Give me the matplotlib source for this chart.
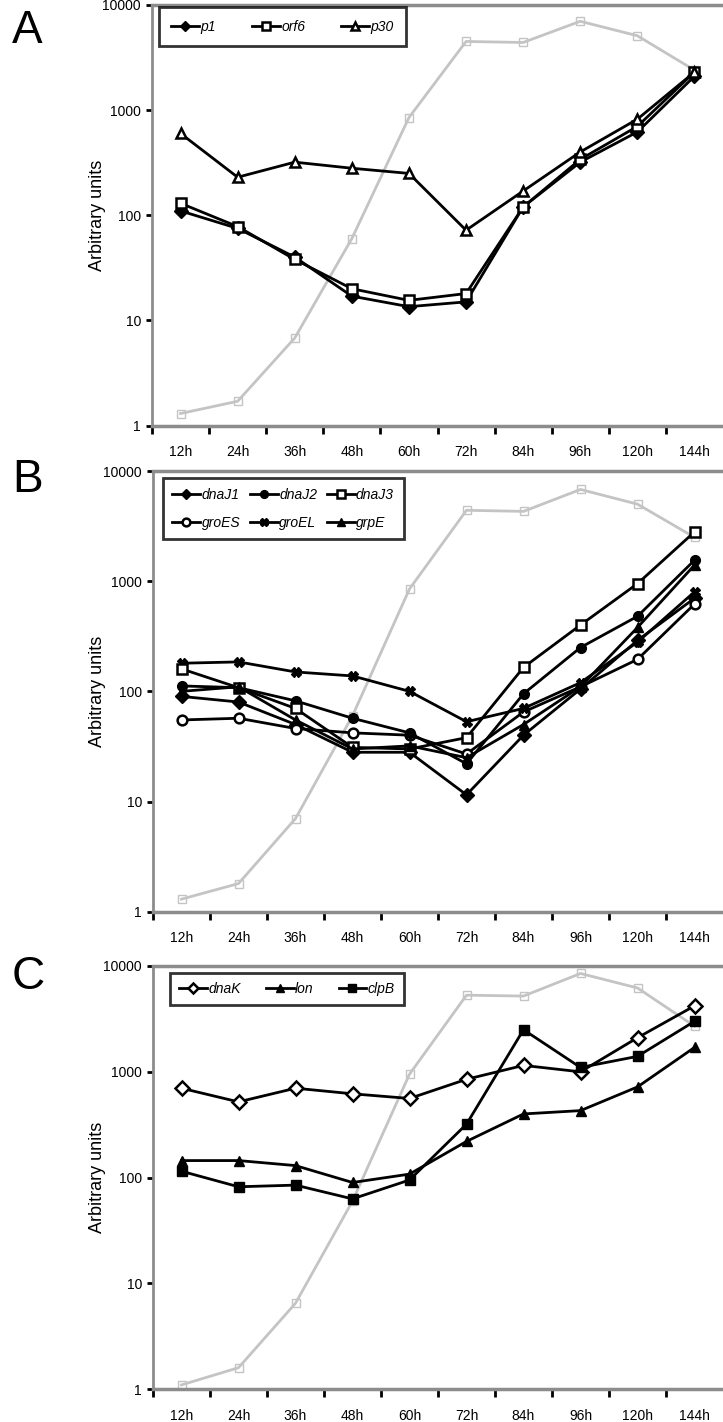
import numpy as np
import matplotlib
matplotlib.use('Agg')
import matplotlib.pyplot as plt
from matplotlib.ticker import FixedLocator, NullFormatter, FixedFormatter

plt.rcParams['font.family'] = ['Liberation Sans', 'DejaVu Sans']

# categorias (tiempo)
hours = ['12h', '24h', '36h', '48h', '60h', '72h', '84h', '96h', '120h', '144h']

# curva gris de referencia en cada panel
ref_a = [1.3, 1.7, 6.8, 60, 850, 4500, 4400, 7000, 5100, 2400]
ref_b = [1.3, 1.8, 7.0, 60, 850, 4400, 4300, 6800, 5000, 2500]
ref_c = [1.1, 1.6, 6.5, 60, 950, 5300, 5200, 8500, 6200, 2700]

# panel A
p1 = [110, 75, 40, 17, 13.5, 15, 120, 320, 620, 2100]
orf6 = [130, 78, 38, 20, 15.5, 18, 120, 340, 700, 2300]
p30 = [600, 230, 320, 280, 250, 72, 170, 400, 820, 2300]

# panel B
dnaJ1 = [90, 80, 50, 28, 28, 11.5, 40, 105, 290, 700]
dnaJ2 = [112, 108, 82, 57, 42, 22, 95, 250, 480, 1550]
dnaJ3 = [160, 108, 70, 31, 30, 38, 165, 400, 950, 2800]
groES = [55, 57, 46, 42, 40, 27, 65, 110, 195, 620]
groEL = [180, 185, 150, 138, 100, 53, 70, 120, 280, 800]
grpE = [100, 110, 55, 30, 32, 25, 50, 110, 380, 1400]

# panel C
dnaK = [700, 520, 700, 620, 560, 850, 1150, 1000, 2100, 4200]
lon = [145, 145, 130, 90, 108, 220, 400, 430, 720, 1700]
clpB = [115, 82, 85, 63, 95, 320, 2500, 1100, 1400, 3000]

W, H = 723, 1422
fig = plt.figure(figsize=(W / 100, H / 100), dpi=100)

def axes_px(left, top, bottom, right=723):
    return fig.add_axes([left / W, 1 - bottom / H, (right - left) / W, (bottom - top) / H])

ax_a = axes_px(152, 5, 425.5)
ax_b = axes_px(153, 471, 911.7)
ax_c = axes_px(153, 966, 1389.3)

x = np.arange(len(hours))
gray = '#c4c4c4'
spine_gray = '#8c8c8c'

def style(ax, ref):
    ax.plot(x, ref, color=gray, lw=2, marker='s', ms=6, mfc='none', mec=gray, mew=1.0, zorder=1)
    ax.set_yscale('log')
    ax.set_ylim(1, 10000)
    ax.set_xlim(-0.5, 9.5)
    ax.yaxis.set_major_locator(FixedLocator([1, 10, 100, 1000, 10000]))
    ax.yaxis.set_major_formatter(FixedFormatter(['1', '10', '100', '1000', '10000']))
    ax.yaxis.set_minor_locator(FixedLocator([]))
    ax.tick_params(axis='y', which='major', length=4, width=2, color='black', labelsize=10, pad=4)
    ax.xaxis.set_major_locator(FixedLocator(np.arange(-0.5, 9.0, 1.0)))
    ax.xaxis.set_major_formatter(NullFormatter())
    ax.xaxis.set_minor_locator(FixedLocator(x))
    ax.xaxis.set_minor_formatter(FixedFormatter(hours))
    ax.tick_params(axis='x', which='major', length=6, width=2, color='black', direction='out')
    ax.tick_params(axis='x', which='minor', length=0, labelsize=10, pad=14)
    for s in ['left', 'bottom', 'top']:
        ax.spines[s].set_color(spine_gray)
    ax.spines['left'].set_linewidth(2)
    ax.spines['bottom'].set_linewidth(2.5)
    ax.spines['top'].set_linewidth(2.5)
    ax.spines['right'].set_visible(False)
    ax.patch.set_visible(False)

kw = dict(color='black', lw=2, ms=7, mec='black')

style(ax_a, ref_a)
ax_a.plot(x, p1, marker='D', mfc='black', label='p1', **kw)
ax_a.plot(x, orf6, marker='s', mfc='white', mew=1.8, label='orf6', **kw)
ax_a.plot(x, p30, marker='^', mfc='white', mew=1.8, label='p30', **kw)

style(ax_b, ref_b)
# orden pensado para que la leyenda quede por filas
ax_b.plot(x, dnaJ1, marker='D', mfc='black', label='dnaJ1', **kw)
ax_b.plot(x, groES, marker='o', mfc='white', mew=1.8, label='groES', **kw)
ax_b.plot(x, dnaJ2, marker='o', mfc='black', label='dnaJ2', **kw)
ax_b.plot(x, groEL, marker='X', mfc='black', label='groEL', **kw)
ax_b.plot(x, dnaJ3, marker='s', mfc='white', mew=1.8, label='dnaJ3', **kw)
ax_b.plot(x, grpE, marker='^', mfc='black', label='grpE', **kw)

style(ax_c, ref_c)
ax_c.plot(x, dnaK, marker='D', mfc='white', mew=1.8, label='dnaK', **kw)
ax_c.plot(x, lon, marker='^', mfc='black', label='lon', **kw)
ax_c.plot(x, clpB, marker='s', mfc='black', label='clpB', **kw)

def legend(ax, anchor, colsp, bpad, lspace):
    leg = ax.legend(loc='upper left', bbox_to_anchor=anchor, ncol=3, frameon=True,
                    fancybox=False, borderaxespad=0, handlelength=2.0, handletextpad=0.1,
                    columnspacing=colsp, prop={'style': 'italic', 'size': 10},
                    borderpad=bpad, labelspacing=lspace, markerscale=0.8)
    leg.get_frame().set_edgecolor('black')
    leg.get_frame().set_linewidth(2)

legend(ax_a, (0.012, 0.995), 2.6, 0.9, 0.6)
legend(ax_b, (0.017, 0.984), 0.7, 0.7, 1.0)
legend(ax_c, (0.03, 0.983), 1.8, 0.65, 0.6)

for ax in (ax_a, ax_b, ax_c):
    pos = ax.get_position()
    fig.text(97 / W, pos.y0 + pos.height / 2, 'Arbitrary units', rotation=90,
             ha='center', va='center', fontsize=13)

for letter, base in (('A', 43), ('B', 492), ('C', 989)):
    fig.text(12 / W, 1 - base / H, letter, fontsize=33, ha='left', va='baseline')

fig.savefig('out.png', dpi=100)
